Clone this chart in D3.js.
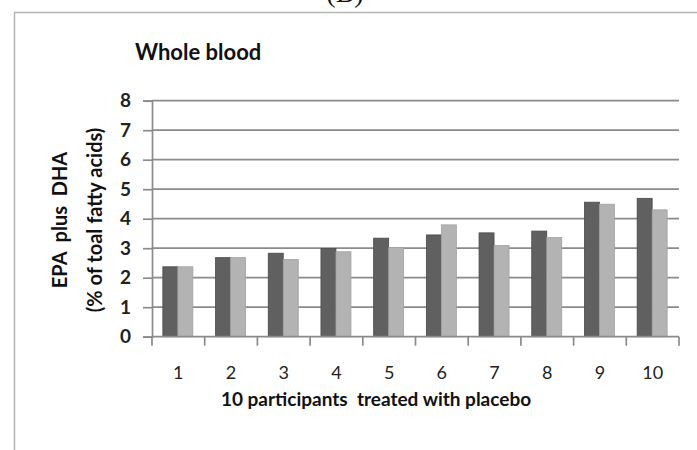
<!DOCTYPE html>
<html>
<head>
<meta charset="utf-8">
<script src="https://cdn.jsdelivr.net/npm/d3@7"></script>
<style>
  body { margin: 0; background: #fff; }
  text { font-family: Lato, "Open Sans", sans-serif; fill: #111; white-space: pre; }
</style>
</head>
<body>
<div id="chart"></div>
<script>
const participants = ["1", "2", "3", "4", "5", "6", "7", "8", "9", "10"];
const seriesA = [2.37, 2.68, 2.83, 2.99, 3.34, 3.45, 3.52, 3.58, 4.56, 4.69];
const seriesB = [2.37, 2.68, 2.62, 2.88, 3.02, 3.79, 3.09, 3.36, 4.49, 4.30];
const yTicks = [0, 1, 2, 3, 4, 5, 6, 7, 8];

const width = 697, height = 450;
const margin = { top: 100.7, right: 18, bottom: 113.3, left: 152 };
const plotW = width - margin.left - margin.right,
    plotH = height - margin.top - margin.bottom;

const svg = d3.select("#chart").append("svg")
    .attr("width", width)
    .attr("height", height);

// frame around the figure panel
svg.append("line").attr("x1", 14).attr("x2", width).attr("y1", 12.5).attr("y2", 12.5)
    .attr("stroke", "#b5b5b5").attr("stroke-width", 1.5);
svg.append("line").attr("x1", 14.5).attr("x2", 14.5).attr("y1", 12).attr("y2", height)
    .attr("stroke", "#b5b5b5").attr("stroke-width", 1.5);

// panel letter, cut by the top edge as in the source figure
svg.append("text")
    .attr("x", 345).attr("y", 2)
    .attr("text-anchor", "middle")
    .style("font-family", "'Liberation Serif', serif")
    .style("font-size", "28px")
    .text("(B)");

const g = svg.append("g")
    .attr("transform", `translate(${margin.left},${margin.top})`);

const x = d3.scaleBand().domain(participants).range([0, plotW]).padding(0);
const y = d3.scaleLinear().domain([0, 8]).range([plotH, 0]);

// grid lines
g.append("g")
    .selectAll("line")
    .data(yTicks.filter(d => d > 0))
    .enter().append("line")
    .attr("x1", 0).attr("x2", plotW)
    .attr("y1", d => y(d)).attr("y2", d => y(d))
    .attr("stroke", "#8a8a8a")
    .attr("stroke-width", 1.7);

// bars
const barW = 15;
const offset = (x.bandwidth() - 2 * barW) / 2 - 0.5;
const bars = g.append("g");
bars.selectAll(".barA")
    .data(participants)
    .enter().append("rect")
    .attr("x", (d) => x(d) + offset)
    .attr("y", (d, i) => y(seriesA[i]))
    .attr("width", barW)
    .attr("height", (d, i) => plotH - y(seriesA[i]))
    .attr("fill", "#606060")
    .attr("stroke", "#4a4a4a")
    .attr("stroke-width", 0.8);
bars.selectAll(".barB")
    .data(participants)
    .enter().append("rect")
    .attr("x", (d) => x(d) + offset + barW)
    .attr("y", (d, i) => y(seriesB[i]))
    .attr("width", barW)
    .attr("height", (d, i) => plotH - y(seriesB[i]))
    .attr("fill", "#b3b3b3")
    .attr("stroke", "#a0a0a0")
    .attr("stroke-width", 0.8);

// y axis
const yAxis = g.append("g")
    .call(d3.axisLeft(y).tickValues(yTicks).tickSize(9).tickPadding(12).tickFormat(d3.format("d")));
yAxis.select(".domain").attr("stroke", "#8a8a8a").attr("stroke-width", 1.7);
yAxis.selectAll(".tick line").attr("stroke", "#8a8a8a").attr("stroke-width", 1.7);
yAxis.selectAll(".tick text")
    .style("font-size", "19px").style("font-weight", "bold").style("fill", "#222");

// x axis: ticks at band boundaries, labels at band centres
const xAxis = g.append("g").attr("transform", `translate(0,${plotH})`);
xAxis.append("line").attr("x1", 0).attr("x2", plotW).attr("y1", 0).attr("y2", 0)
    .attr("stroke", "#8a8a8a").attr("stroke-width", 1.7);
xAxis.selectAll(".xtick")
    .data(participants.concat(["end"]))
    .enter().append("line")
    .attr("x1", (d, i) => i * x.step()).attr("x2", (d, i) => i * x.step())
    .attr("y1", 0).attr("y2", 9)
    .attr("stroke", "#8a8a8a").attr("stroke-width", 1.7);
xAxis.selectAll(".xlabel")
    .data(participants)
    .enter().append("text")
    .attr("x", d => x(d) + x.bandwidth() / 2)
    .attr("y", 42)
    .attr("text-anchor", "middle")
    .style("font-size", "18px")
    .style("fill", "#222")
    .text(d => d);

// titles
svg.append("text")
    .attr("x", 135).attr("y", 60)
    .style("font-size", "22px").style("font-weight", "bold")
    .text("Whole blood");

svg.append("text")
    .attr("x", 376).attr("y", 406)
    .attr("text-anchor", "middle")
    .style("font-size", "19px").style("font-weight", "bold")
    .text("10 participants  treated with placebo");

const yTitle = svg.append("g").attr("transform", "translate(67,220) rotate(-90)");
yTitle.append("text")
    .attr("text-anchor", "middle")
    .style("font-size", "20px").style("font-weight", "bold")
    .text("EPA  plus  DHA");
yTitle.append("text")
    .attr("y", 35)
    .attr("text-anchor", "middle")
    .style("font-size", "20px").style("font-weight", "bold")
    .text("(% of toal fatty acids)");
</script>
</body>
</html>
